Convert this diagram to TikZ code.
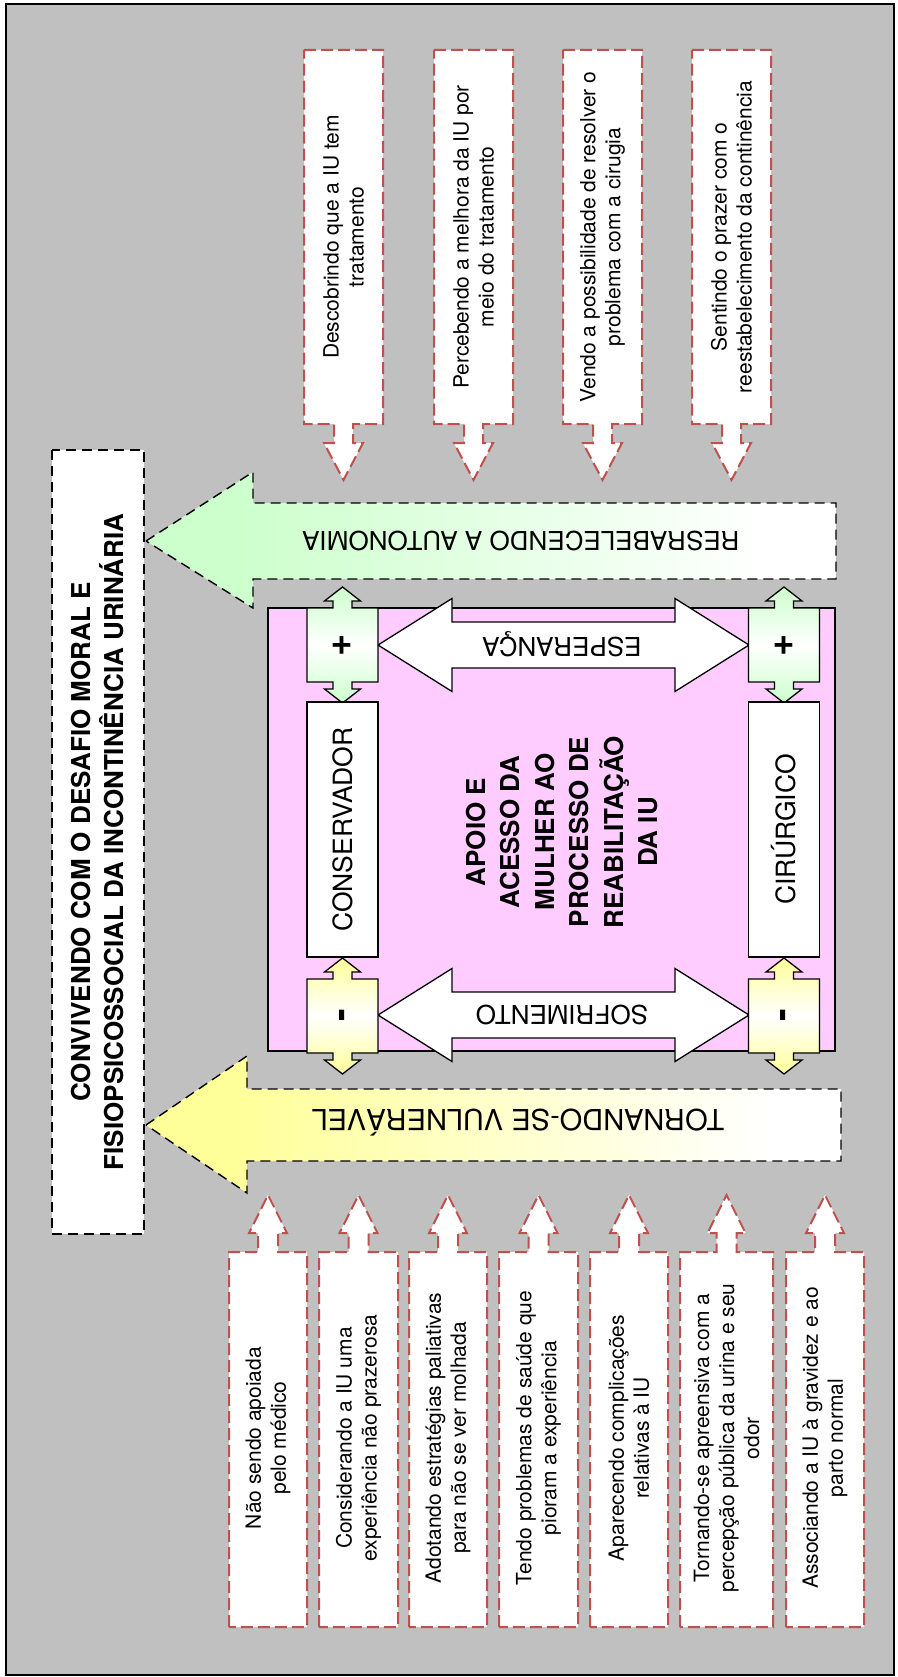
\documentclass[tikz,border=0pt]{standalone}
\usepackage{fontspec}
\setmainfont{TeX Gyre Heros}
\usetikzlibrary{shadings}

\definecolor{bggray}{RGB}{192,192,192}
\definecolor{dashred}{RGB}{192,80,77}
\definecolor{softgreen}{RGB}{204,255,204}
\definecolor{softyellow}{RGB}{255,255,153}
\definecolor{softpink}{RGB}{255,204,255}

% fades for the two large arrows (head coloured, tail white)
\pgfdeclarehorizontalshading{greenfade}{100bp}{color(0bp)=(softgreen); color(31bp)=(softgreen); color(70bp)=(white); color(100bp)=(white)}
\pgfdeclarehorizontalshading{yellowfade}{100bp}{color(0bp)=(softyellow); color(31bp)=(softyellow); color(70bp)=(white); color(100bp)=(white)}
% coloured ends, white middle for the small up/down callouts
\pgfdeclareverticalshading{greenmid}{100bp}{color(0bp)=(softgreen); color(25bp)=(softgreen); color(50bp)=(white); color(75bp)=(softgreen); color(100bp)=(softgreen)}
\pgfdeclareverticalshading{yellowmid}{100bp}{color(0bp)=(softyellow); color(25bp)=(softyellow); color(50bp)=(white); color(75bp)=(softyellow); color(100bp)=(softyellow)}

\tikzset{
  redcall/.style={draw=dashred, line width=2pt, dash pattern=on 12pt off 5pt, fill=white},
  blackdash/.style={draw=black, line width=1.4pt, dash pattern=on 10pt off 6pt},
  blackline/.style={draw=black, line width=1.3pt},
  smalltxt/.style={rotate=90, align=center, inner sep=0pt, font=\fontsize{21}{25}\selectfont},
  boldtxt/.style={align=center, inner sep=0pt, font=\bfseries\fontsize{26}{33}\selectfont},
  plaintxt/.style={align=center, inner sep=0pt, font=\fontsize{26}{31}\selectfont},
  signtxt/.style={rotate=90, inner sep=0pt, font=\bfseries\fontsize{38}{40}\selectfont},
  methodbox/.style={blackline, fill=white, rotate=90, inner sep=0pt, minimum width=255pt, minimum height=71pt, font=\fontsize{26.5}{31}\selectfont}
}

% up/down arrow callout: #1 centre x, #2 box top, #3 box bottom, #4 shading
\newcommand\udcallout[4]{%
  \draw[blackline, shade, shading=#4]
    ({#1-35.5},{#2}) -- ({#1-9.5},{#2}) -- ({#1-9.5},{#2-7}) -- ({#1-18},{#2-7})
    -- ({#1},{#2-21}) -- ({#1+18},{#2-7}) -- ({#1+9.5},{#2-7}) -- ({#1+9.5},{#2})
    -- ({#1+35.5},{#2}) -- ({#1+35.5},{#3}) -- ({#1+9.5},{#3}) -- ({#1+9.5},{#3+7})
    -- ({#1+18},{#3+7}) -- ({#1},{#3+21}) -- ({#1-18},{#3+7}) -- ({#1-9.5},{#3+7})
    -- ({#1-9.5},{#3}) -- ({#1-35.5},{#3}) -- cycle;}
% horizontal double arrow centred at height #1
\newcommand\hdouble[1]{%
  \draw[blackline, fill=white]
    (378,{#1}) -- (452,{#1-46.5}) -- (452,{#1-23}) -- (675,{#1-23}) -- (675,{#1-46.5})
    -- (749,{#1}) -- (675,{#1+46.5}) -- (675,{#1+23}) -- (452,{#1+23}) -- (452,{#1+46.5}) -- cycle;}

\begin{document}
\begin{tikzpicture}[x=1pt,y=-1pt]
\useasboundingbox (0,0) rectangle (897,1677);
\draw[line width=1.8pt, fill=bggray] (6,4) rectangle (894,1675);

% title
\node[blackdash, fill=white, boldtxt, rotate=90, minimum width=784pt, minimum height=92pt] (title) at (98,842)
  {CONVIVENDO COM O DESAFIO MORAL E\\FISIOPSICOSSOCIAL DA INCONTINÊNCIA URINÁRIA};

% large arrows
\draw[blackdash, shade, shading=greenfade]
  (146,541) -- (253,472) -- (253,503) -- (836,503) -- (836,579) -- (253,579) -- (253,608) -- cycle;
\draw[blackdash, shade, shading=yellowfade]
  (146,1125) -- (247,1056) -- (247,1089) -- (841,1089) -- (841,1161) -- (247,1161) -- (247,1193) -- cycle;
\node[rotate=180, inner sep=0pt, font=\fontsize{26}{30}\selectfont] (autonomia) at (521,541) {RESRABELECENDO A AUTONOMIA};
\node[rotate=180, inner sep=0pt, font=\fontsize{29}{34}\selectfont] (vulneravel) at (518,1123) {TORNANDO-SE VULNERÁVEL};

% upper callouts (pointing down)
\foreach \cx in {343.5,473.5,602.5,731.5}{
  \draw[redcall]
    ({\cx-39.5},50) -- ({\cx+39.5},50) -- ({\cx+39.5},424) -- ({\cx+9.5},424) -- ({\cx+9.5},443)
    -- ({\cx+19.5},443) -- ({\cx},480) -- ({\cx-19.5},443) -- ({\cx-9.5},443) -- ({\cx-9.5},424)
    -- ({\cx-39.5},424) -- cycle;
}
\foreach \cx/\txt [count=\i] in {
  343.5/{Descobrindo que a IU tem\\tratamento},
  473.5/{Percebendo a melhora da IU por\\meio do tratamento},
  602.5/{Vendo a possibilidade de resolver o\\problema com a cirugia},
  731.5/{Sentindo o prazer com o\\reestabelecimento da continência}}{
  \node[smalltxt] (up\i) at (\cx,237) {\txt};
}

% lower callouts (pointing up)
\foreach \cx/\w in {268/78,358.5/79,448/78,538.5/79,629/78,726.5/93,825/78}{
  \draw[redcall]
    ({\cx-\w/2},1627) -- ({\cx-\w/2},1252) -- ({\cx-10},1252) -- ({\cx-10},1233) -- ({\cx-19},1233)
    -- ({\cx},1195) -- ({\cx+19},1233) -- ({\cx+10},1233) -- ({\cx+10},1252) -- ({\cx+\w/2},1252)
    -- ({\cx+\w/2},1627) -- cycle;
}
\foreach \cx/\txt [count=\i] in {
  268/{Não sendo apoiada\\pelo médico},
  358.5/{Considerando a IU uma\\experiência não prazerosa},
  448/{Adotando estratégias paliativas\\para não se ver molhada},
  538.5/{Tendo problemas de saúde que\\pioram a experiência},
  629/{Aparecendo complicações\\relativas à IU},
  726.5/{Tornando-se apreensiva com a\\percepção pública da urina e seu\\odor},
  825/{Associando a IU à gravidez e ao\\parto normal}}{
  \node[smalltxt] (low\i) at (\cx,1438) {\txt};
}

% central panel
\node[blackline, fill=softpink, inner sep=0pt, minimum width=567pt, minimum height=443pt] (core) at (551.5,829.5) {};
\node[boldtxt, rotate=90, font=\bfseries\fontsize{26}{34.5}\selectfont] (coretxt) at (562,832)
  {APOIO E\\ACESSO DA\\MULHER AO\\PROCESSO DE\\REABILITAÇÃO\\DA IU};

\hdouble{645}
\hdouble{1015}
\node[plaintxt, rotate=180] (esperanca) at (562,644) {ESPERANÇA};
\node[plaintxt, rotate=180] (sofrimento) at (562,1015) {SOFRIMENTO};

\udcallout{342.5}{608}{682}{greenmid}
\udcallout{784}{608}{682}{greenmid}
\udcallout{342.5}{979}{1053}{yellowmid}
\udcallout{784}{979}{1053}{yellowmid}
\node[signtxt] (plusL) at (342.5,645) {+};
\node[signtxt] (plusR) at (784,645) {+};
\node[signtxt] (minusL) at (346,1015) {-};
\node[signtxt] (minusR) at (787,1015) {-};

\node[methodbox] (cons) at (342.5,829.5) {CONSERVADOR};
\node[methodbox] (cir) at (784,829.5) {CIRÚRGICO};
\end{tikzpicture}
\end{document}
